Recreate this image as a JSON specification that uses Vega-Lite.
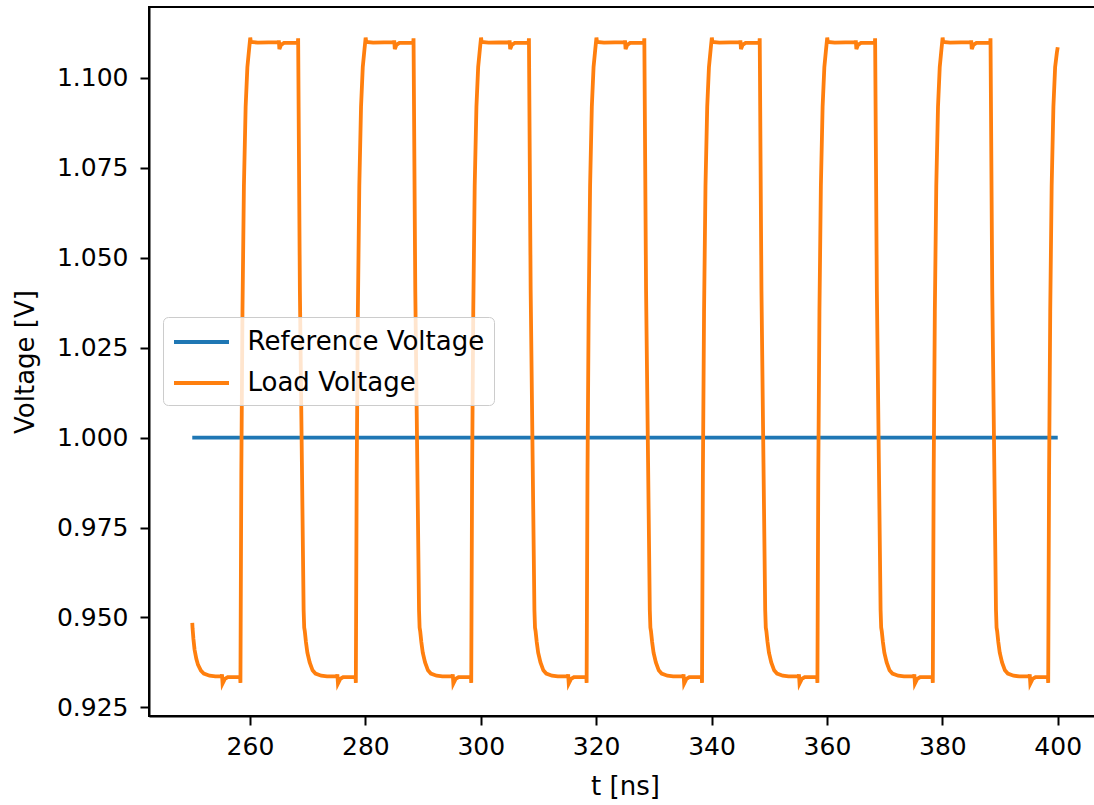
{
  "$schema": "https://vega.github.io/schema/vega-lite/v6.json",
  "autosize": {"type": "none"},
  "padding": {"left": 149, "top": 7, "right": 0, "bottom": 89},
  "width": 952,
  "height": 709,
  "config": {
    "font": "DejaVu Sans",
    "view": {"stroke": "#000000", "strokeWidth": 2},
    "axis": {
      "labelFont": "DejaVu Sans", "labelFontSize": 25, "labelColor": "#000000",
      "titleFont": "DejaVu Sans", "titleFontSize": 26, "titleColor": "#000000", "titleFontWeight": "normal",
      "domainColor": "#000000", "domainWidth": 2, "tickColor": "#000000", "tickWidth": 2, "tickSize": 9,
      "grid": false
    },
    "legend": {"labelFont": "DejaVu Sans", "labelFontSize": 26, "labelColor": "#000000", "labelLimit": 500}
  },
  "encoding": {
    "x": {"field": "t", "type": "quantitative", "scale": {"domain": [242.5, 407.5], "nice": false, "zero": false},
          "axis": {"values": [260, 280, 300, 320, 340, 360, 380, 400], "format": "d", "labelPadding": 9, "title": "t [ns]", "titlePadding": 14}},
    "y": {"field": "v", "type": "quantitative", "scale": {"domain": [0.9226, 1.1197], "nice": false, "zero": false},
          "axis": {"values": [0.925, 0.95, 0.975, 1.0, 1.025, 1.05, 1.075, 1.1], "format": ".3f", "labelPadding": 12, "title": "Voltage [V]", "titlePadding": 18}}
  },
  "layer": [
    {
      "data": {"values": [{"t": 250, "v": 1.0}, {"t": 400, "v": 1.0}]},
      "mark": {"type": "line", "strokeWidth": 3.8},
      "encoding": {
        "color": {"datum": "Reference Voltage", "type": "nominal",
          "scale": {"domain": ["Reference Voltage", "Load Voltage"], "range": ["#1f77b4", "#ff7f0e"]},
          "legend": {"title": null, "orient": "none", "legendX": 14, "legendY": 310, "symbolType": "M-2,0H2", "symbolSize": 756, "symbolStrokeWidth": 3.8,
            "symbolOffset": 13.5, "labelOffset": 30, "rowPadding": 12, "padding": 9, "fillColor": "rgba(255,255,255,0.8)", "strokeColor": "#cccccc", "cornerRadius": 5}}
      }
    },
    {
      "data": {"values": [
        {"t":250.0,"v":0.9485},{"t":250.05,"v":0.947},{"t":250.2,"v":0.944},{"t":250.4,"v":0.941},{"t":250.7,"v":0.9385},{"t":251.0,"v":0.9368},{"t":251.5,"v":0.9352},{"t":252.0,"v":0.9344},{"t":253.0,"v":0.9338},{"t":254.0,"v":0.9336},{"t":255.1,"v":0.9336},{"t":255.15,"v":0.9342},{"t":255.25,"v":0.9316},{"t":255.65,"v":0.9329},{"t":256.15,"v":0.9334},{"t":258.3,"v":0.9334},{"t":258.35,"v":0.9318},

        {"t":258.5,"v":0.99},{"t":258.7,"v":1.035},{"t":258.95,"v":1.07},{"t":259.25,"v":1.092},{"t":259.55,"v":1.103},{"t":259.85,"v":1.108},{"t":260.05,"v":1.1112},{"t":260.15,"v":1.11},{"t":261.35,"v":1.1098},{"t":264.95,"v":1.1099},{"t":265.0,"v":1.1104},{"t":265.1,"v":1.108},{"t":265.4,"v":1.1092},{"t":265.9,"v":1.1097},{"t":268.3,"v":1.1098},{"t":268.35,"v":1.111},
        {"t":268.65,"v":1.041},{"t":269.0,"v":0.993},{"t":269.3,"v":0.952},{"t":269.4,"v":0.9472},{"t":269.5,"v":0.9462},{"t":269.7,"v":0.9432},{"t":269.95,"v":0.9402},{"t":270.35,"v":0.9375},{"t":270.85,"v":0.9353},{"t":271.35,"v":0.9344},{"t":272.35,"v":0.9338},{"t":273.35,"v":0.9336},{"t":275.1,"v":0.9336},{"t":275.15,"v":0.9342},{"t":275.25,"v":0.9316},{"t":275.65,"v":0.9329},{"t":276.15,"v":0.9334},{"t":278.3,"v":0.9334},{"t":278.35,"v":0.9318},

        {"t":278.5,"v":0.99},{"t":278.7,"v":1.035},{"t":278.95,"v":1.07},{"t":279.25,"v":1.092},{"t":279.55,"v":1.103},{"t":279.85,"v":1.108},{"t":280.05,"v":1.1112},{"t":280.15,"v":1.11},{"t":281.35,"v":1.1098},{"t":284.95,"v":1.1099},{"t":285.0,"v":1.1104},{"t":285.1,"v":1.108},{"t":285.4,"v":1.1092},{"t":285.9,"v":1.1097},{"t":288.3,"v":1.1098},{"t":288.35,"v":1.111},
        {"t":288.65,"v":1.041},{"t":289.0,"v":0.993},{"t":289.3,"v":0.952},{"t":289.4,"v":0.9472},{"t":289.5,"v":0.9462},{"t":289.7,"v":0.9432},{"t":289.95,"v":0.9402},{"t":290.35,"v":0.9375},{"t":290.85,"v":0.9353},{"t":291.35,"v":0.9344},{"t":292.35,"v":0.9338},{"t":293.35,"v":0.9336},{"t":295.1,"v":0.9336},{"t":295.15,"v":0.9342},{"t":295.25,"v":0.9316},{"t":295.65,"v":0.9329},{"t":296.15,"v":0.9334},{"t":298.3,"v":0.9334},{"t":298.35,"v":0.9318},

        {"t":298.5,"v":0.99},{"t":298.7,"v":1.035},{"t":298.95,"v":1.07},{"t":299.25,"v":1.092},{"t":299.55,"v":1.103},{"t":299.85,"v":1.108},{"t":300.05,"v":1.1112},{"t":300.15,"v":1.11},{"t":301.35,"v":1.1098},{"t":304.95,"v":1.1099},{"t":305.0,"v":1.1104},{"t":305.1,"v":1.108},{"t":305.4,"v":1.1092},{"t":305.9,"v":1.1097},{"t":308.3,"v":1.1098},{"t":308.35,"v":1.111},
        {"t":308.65,"v":1.041},{"t":309.0,"v":0.993},{"t":309.3,"v":0.952},{"t":309.4,"v":0.9472},{"t":309.5,"v":0.9462},{"t":309.7,"v":0.9432},{"t":309.95,"v":0.9402},{"t":310.35,"v":0.9375},{"t":310.85,"v":0.9353},{"t":311.35,"v":0.9344},{"t":312.35,"v":0.9338},{"t":313.35,"v":0.9336},{"t":315.1,"v":0.9336},{"t":315.15,"v":0.9342},{"t":315.25,"v":0.9316},{"t":315.65,"v":0.9329},{"t":316.15,"v":0.9334},{"t":318.3,"v":0.9334},{"t":318.35,"v":0.9318},

        {"t":318.5,"v":0.99},{"t":318.7,"v":1.035},{"t":318.95,"v":1.07},{"t":319.25,"v":1.092},{"t":319.55,"v":1.103},{"t":319.85,"v":1.108},{"t":320.05,"v":1.1112},{"t":320.15,"v":1.11},{"t":321.35,"v":1.1098},{"t":324.95,"v":1.1099},{"t":325.0,"v":1.1104},{"t":325.1,"v":1.108},{"t":325.4,"v":1.1092},{"t":325.9,"v":1.1097},{"t":328.3,"v":1.1098},{"t":328.35,"v":1.111},
        {"t":328.65,"v":1.041},{"t":329.0,"v":0.993},{"t":329.3,"v":0.952},{"t":329.4,"v":0.9472},{"t":329.5,"v":0.9462},{"t":329.7,"v":0.9432},{"t":329.95,"v":0.9402},{"t":330.35,"v":0.9375},{"t":330.85,"v":0.9353},{"t":331.35,"v":0.9344},{"t":332.35,"v":0.9338},{"t":333.35,"v":0.9336},{"t":335.1,"v":0.9336},{"t":335.15,"v":0.9342},{"t":335.25,"v":0.9316},{"t":335.65,"v":0.9329},{"t":336.15,"v":0.9334},{"t":338.3,"v":0.9334},{"t":338.35,"v":0.9318},

        {"t":338.5,"v":0.99},{"t":338.7,"v":1.035},{"t":338.95,"v":1.07},{"t":339.25,"v":1.092},{"t":339.55,"v":1.103},{"t":339.85,"v":1.108},{"t":340.05,"v":1.1112},{"t":340.15,"v":1.11},{"t":341.35,"v":1.1098},{"t":344.95,"v":1.1099},{"t":345.0,"v":1.1104},{"t":345.1,"v":1.108},{"t":345.4,"v":1.1092},{"t":345.9,"v":1.1097},{"t":348.3,"v":1.1098},{"t":348.35,"v":1.111},
        {"t":348.65,"v":1.041},{"t":349.0,"v":0.993},{"t":349.3,"v":0.952},{"t":349.4,"v":0.9472},{"t":349.5,"v":0.9462},{"t":349.7,"v":0.9432},{"t":349.95,"v":0.9402},{"t":350.35,"v":0.9375},{"t":350.85,"v":0.9353},{"t":351.35,"v":0.9344},{"t":352.35,"v":0.9338},{"t":353.35,"v":0.9336},{"t":355.1,"v":0.9336},{"t":355.15,"v":0.9342},{"t":355.25,"v":0.9316},{"t":355.65,"v":0.9329},{"t":356.15,"v":0.9334},{"t":358.3,"v":0.9334},{"t":358.35,"v":0.9318},

        {"t":358.5,"v":0.99},{"t":358.7,"v":1.035},{"t":358.95,"v":1.07},{"t":359.25,"v":1.092},{"t":359.55,"v":1.103},{"t":359.85,"v":1.108},{"t":360.05,"v":1.1112},{"t":360.15,"v":1.11},{"t":361.35,"v":1.1098},{"t":364.95,"v":1.1099},{"t":365.0,"v":1.1104},{"t":365.1,"v":1.108},{"t":365.4,"v":1.1092},{"t":365.9,"v":1.1097},{"t":368.3,"v":1.1098},{"t":368.35,"v":1.111},
        {"t":368.65,"v":1.041},{"t":369.0,"v":0.993},{"t":369.3,"v":0.952},{"t":369.4,"v":0.9472},{"t":369.5,"v":0.9462},{"t":369.7,"v":0.9432},{"t":369.95,"v":0.9402},{"t":370.35,"v":0.9375},{"t":370.85,"v":0.9353},{"t":371.35,"v":0.9344},{"t":372.35,"v":0.9338},{"t":373.35,"v":0.9336},{"t":375.1,"v":0.9336},{"t":375.15,"v":0.9342},{"t":375.25,"v":0.9316},{"t":375.65,"v":0.9329},{"t":376.15,"v":0.9334},{"t":378.3,"v":0.9334},{"t":378.35,"v":0.9318},

        {"t":378.5,"v":0.99},{"t":378.7,"v":1.035},{"t":378.95,"v":1.07},{"t":379.25,"v":1.092},{"t":379.55,"v":1.103},{"t":379.85,"v":1.108},{"t":380.05,"v":1.1112},{"t":380.15,"v":1.11},{"t":381.35,"v":1.1098},{"t":384.95,"v":1.1099},{"t":385.0,"v":1.1104},{"t":385.1,"v":1.108},{"t":385.4,"v":1.1092},{"t":385.9,"v":1.1097},{"t":388.3,"v":1.1098},{"t":388.35,"v":1.111},
        {"t":388.65,"v":1.041},{"t":389.0,"v":0.993},{"t":389.3,"v":0.952},{"t":389.4,"v":0.9472},{"t":389.5,"v":0.9462},{"t":389.7,"v":0.9432},{"t":389.95,"v":0.9402},{"t":390.35,"v":0.9375},{"t":390.85,"v":0.9353},{"t":391.35,"v":0.9344},{"t":392.35,"v":0.9338},{"t":393.35,"v":0.9336},{"t":395.1,"v":0.9336},{"t":395.15,"v":0.9342},{"t":395.25,"v":0.9316},{"t":395.65,"v":0.9329},{"t":396.15,"v":0.9334},{"t":398.3,"v":0.9334},{"t":398.35,"v":0.9318},

        {"t":398.5,"v":0.99},{"t":398.7,"v":1.035},{"t":398.95,"v":1.07},{"t":399.25,"v":1.092},{"t":399.55,"v":1.103},{"t":399.85,"v":1.107},{"t":400.0,"v":1.1085}
      ]},
      "mark": {"type": "line", "strokeWidth": 3.8},
      "encoding": {
        "color": {"datum": "Load Voltage", "type": "nominal"}
      }
    }
  ]
}
